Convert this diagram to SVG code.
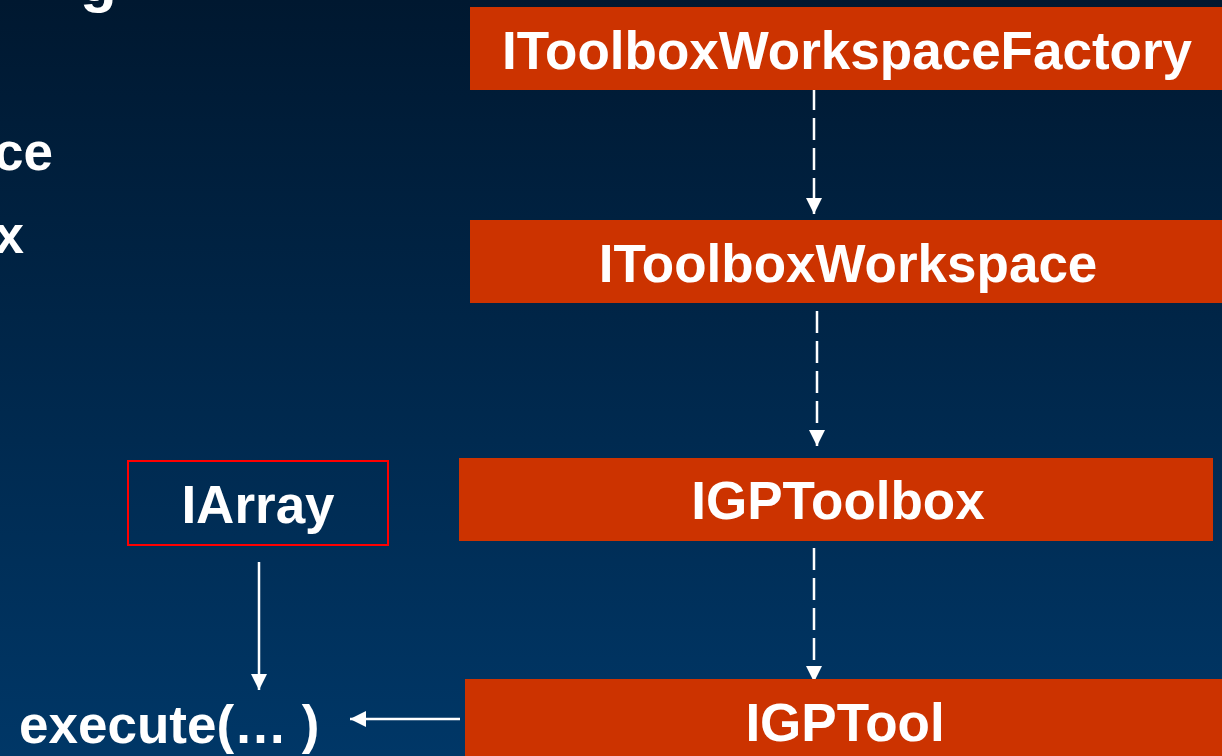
<svg xmlns="http://www.w3.org/2000/svg" width="1222" height="756" viewBox="0 0 1222 756">
<defs>
<linearGradient id="bg" x1="0" y1="0" x2="0" y2="1">
<stop offset="0" stop-color="#001830"/>
<stop offset="1" stop-color="#003767"/>
</linearGradient>
<marker id="ah" viewBox="0 0 16 16" markerWidth="16" markerHeight="16" refX="16" refY="8" orient="auto" markerUnits="userSpaceOnUse">
<path d="M0,0 L16,8 L0,16 Z" fill="#ffffff"/>
</marker>
<marker id="ah2" viewBox="0 0 16 16" markerWidth="16" markerHeight="16" refX="16" refY="8" orient="auto" markerUnits="userSpaceOnUse">
<path d="M0,0 L16,8 L0,16 Z" fill="#ffffff"/>
</marker>
</defs>
<style>
.box{fill:#cc3300;}
.lbl{font-family:"Liberation Sans",Arial,sans-serif;font-weight:bold;font-size:53px;fill:#ffffff;}
.dash{stroke:#ffffff;stroke-width:2.5;stroke-dasharray:22 8;fill:none;}
.solid{stroke:#ffffff;stroke-width:2.5;fill:none;}
</style>
<rect x="0" y="0" width="1222" height="756" fill="url(#bg)"/>
<g id="fragments">
<text class="lbl" x="80" y="1" style="font-size:60px">g</text>
<text class="lbl" x="53" y="170" text-anchor="end">ce</text>
<text class="lbl" x="24" y="253" text-anchor="end">x</text>
</g>
<g id="connectors">
<line class="dash" x1="814" y1="88" x2="814" y2="214" marker-end="url(#ah)"/>
<line class="dash" x1="817" y1="311" x2="817" y2="446" marker-end="url(#ah)"/>
<line class="dash" x1="814" y1="548" x2="814" y2="682" marker-end="url(#ah)"/>
<line class="solid" x1="259" y1="562" x2="259" y2="690" marker-end="url(#ah2)"/>
<line class="solid" x1="460" y1="719" x2="350" y2="719" marker-end="url(#ah2)"/>
</g>
<g id="factory">
<rect class="box" x="470" y="7" width="752" height="83"/>
<text class="lbl" x="847" y="69" text-anchor="middle">IToolboxWorkspaceFactory</text>
</g>
<g id="workspace">
<rect class="box" x="470" y="220" width="752" height="83"/>
<text class="lbl" x="848" y="282" text-anchor="middle">IToolboxWorkspace</text>
</g>
<g id="toolbox">
<rect class="box" x="459" y="458" width="754" height="83"/>
<text class="lbl" x="838" y="519" text-anchor="middle">IGPToolbox</text>
</g>
<g id="tool">
<rect class="box" x="465" y="679" width="757" height="80"/>
<text class="lbl" x="845" y="741" text-anchor="middle">IGPTool</text>
</g>
<g id="iarray">
<rect x="128" y="461" width="260" height="84" fill="none" stroke="#ff0000" stroke-width="2"/>
<text class="lbl" x="258" y="523" text-anchor="middle">IArray</text>
</g>
<g id="execute">
<text class="lbl" x="19" y="743">execute(… )</text>
</g>
</svg>
